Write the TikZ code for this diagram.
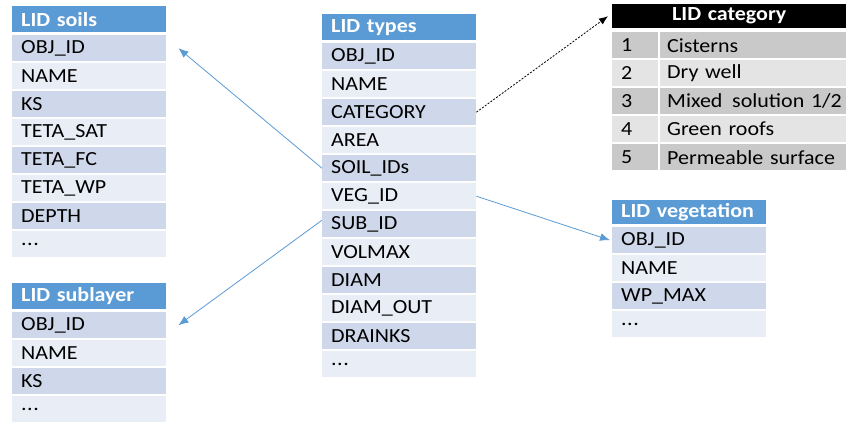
\documentclass[tikz,border=0pt]{standalone}
\usepackage{fontspec}
\setmainfont{Carlito}[FakeStretch=1.1]
\usepackage{tikz}
\usetikzlibrary{positioning}
\usetikzlibrary{arrows.meta}
\definecolor{headblue}{HTML}{5B9BD5}
\definecolor{rowshade1}{HTML}{CFD8EA}
\definecolor{rowshade0}{HTML}{E9EDF5}
\definecolor{catshade1}{HTML}{C9C9C9}
\definecolor{catshade0}{HTML}{E4E4E4}
\tikzstyle{cell}=[anchor=north west,minimum height=26pt,inner xsep=9pt,inner ysep=0pt,text width=136pt,align=left,font=\fontsize{20}{22}\selectfont,text=black]
\tikzstyle{header}=[cell,fill=headblue,text=white,font=\fontsize{20}{22}\selectfont\bfseries]
\tikzstyle{numcell}=[cell,text width=28pt]
\tikzstyle{catcell}=[cell,inner xsep=7pt,text width=172pt]
\tikzstyle{link}=[-{Latex[length=10pt,width=8pt]},headblue,line width=0.8pt]
\newcommand{\more}{.\kern0.5pt.\kern0.5pt.}
\begin{document}
\begin{tikzpicture}[x=1pt,y=-1pt]

   \useasboundingbox[fill=white] (0,0) rectangle (851,422);

% LID soils
  \node[header] (soils-h) at (12,6) {LID soils};
  \foreach \txt [count=\i] in {OBJ\_ID, NAME, KS, TETA\_SAT, TETA\_FC, TETA\_WP, DEPTH, \more}{
      \pgfmathtruncatemacro\shade{mod(\i,2)}
      \node[cell,fill=rowshade\shade] (soils-\i) at (12,{35+28*(\i-1)}) {\txt};
  }

% LID sublayer
  \node[header] (sub-h) at (12,283) {LID sublayer};
  \foreach \txt [count=\i] in {OBJ\_ID, NAME, KS, \more}{
      \pgfmathtruncatemacro\shade{mod(\i,2)}
      \node[cell,fill=rowshade\shade] (sub-\i) at (12,{312+28*(\i-1)}) {\txt};
  }

% LID types
  \node[header] (types-h) at (322,14) {LID types};
  \foreach \txt [count=\i] in {OBJ\_ID, NAME, CATEGORY, AREA, SOIL\_IDs, VEG\_ID, SUB\_ID, VOLMAX, DIAM, DIAM\_OUT, DRAINKS, \more}{
      \pgfmathtruncatemacro\shade{mod(\i,2)}
      \node[cell,fill=rowshade\shade] (types-\i) at (322,{43+28*(\i-1)}) {\txt};
  }

% LID vegetation
  \node[header,minimum height=24pt] (veg-h) at (612,200) {LID vegetation};
  \foreach \txt [count=\i] in {OBJ\_ID, NAME, WP\_MAX, \more}{
      \pgfmathtruncatemacro\shade{mod(\i,2)}
      \node[cell,fill=rowshade\shade] (veg-\i) at (612,{227+28*(\i-1)}) {\txt};
  }

% LID category
  \node[header,fill=black,text width=216pt,align=center,minimum height=24pt] (cat-h) at (612,4) {LID category};
  \foreach \txt [count=\i] in {Cisterns, Dry well, Mixed\kern3pt\ solution 1/2, Green roofs, Permeable surface}{
      \pgfmathtruncatemacro\shade{mod(\i,2)}
      \node[numcell,fill=catshade\shade] (num-\i) at (612,{32+28*(\i-1)}) {\i};
      \node[catcell,fill=catshade\shade] (cat-\i) at (660,{32+28*(\i-1)}) {\mbox{\txt}};
  }

% links
  \coordinate (soils-in) at ([xshift=12pt]soils-1.east);
  \coordinate (sub-in) at ([xshift=12pt]sub-1.east);
  \coordinate (veg-in) at ([xshift=-2pt]veg-1.west);
  \coordinate (cat-in) at ([xshift=-4pt]cat-h.west);

  \draw[link] (types-5.west) -- (soils-in);
  \draw[link] ([yshift=4pt]types-7.west) -- (sub-in);
  \draw[link] (types-6.east) -- (veg-in);
  \draw[-{Latex[length=9pt,width=7pt]},black,line width=0.8pt,dash pattern=on 2pt off 1.5pt] (types-3.east) -- (cat-in);

\end{tikzpicture}
\end{document}
